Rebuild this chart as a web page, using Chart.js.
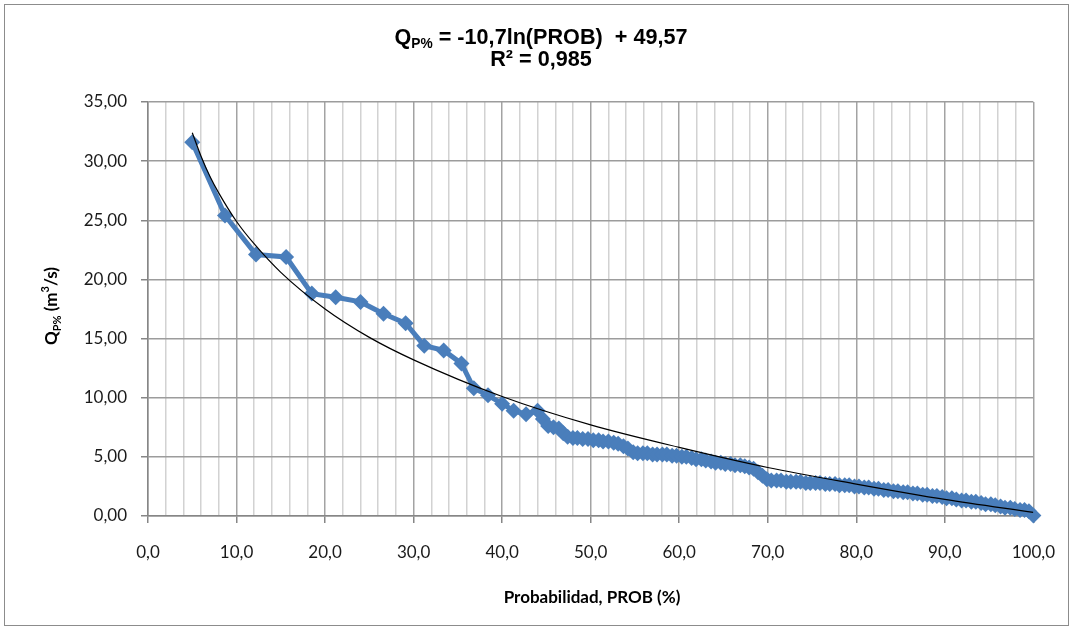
<!DOCTYPE html>
<html>
<head>
<meta charset="utf-8">
<title>Curva de duración</title>
<script src="https://cdn.jsdelivr.net/npm/chart.js@4.4.1/dist/chart.umd.min.js"></script>
<style>
  html, body { margin: 0; padding: 0; background: #fff; }
  #wrap { width: 1074px; height: 631px; }
</style>
</head>
<body>
<div id="wrap"><canvas id="duration-graph" width="1074" height="631"></canvas></div>
<script>
const probValues = [
  5.0, 8.7, 12.2, 15.6, 18.5, 21.2, 24.0, 26.6, 29.1, 31.2, 33.4, 35.4, 36.8, 38.4,
  40.0, 41.3, 42.7, 44.0, 44.6, 45.2, 45.8, 46.4, 46.9, 47.4, 48.0, 48.5, 49.1, 49.7,
  50.3, 50.9, 51.4, 52.0, 52.6, 53.1, 53.7, 54.2, 54.8, 55.3, 55.9, 56.4, 57.0, 57.5,
  58.1, 58.6, 59.2, 59.7, 60.3, 60.8, 61.4, 61.9, 62.5, 63.0, 63.6, 64.1, 64.7, 65.2,
  65.8, 66.3, 66.9, 67.4, 67.9, 68.4, 68.9, 69.4, 69.9, 70.4, 71.0, 71.5, 72.1, 72.6,
  73.2, 73.7, 74.3, 74.8, 75.4, 75.9, 76.5, 77.0, 77.6, 78.1, 78.7, 79.2, 79.8, 80.3,
  80.9, 81.4, 82.0, 82.5, 83.1, 83.6, 84.2, 84.7, 85.3, 85.8, 86.4, 86.9, 87.5, 88.0,
  88.6, 89.1, 89.7, 90.2, 90.8, 91.3, 91.9, 92.4, 93.0, 93.5, 94.1, 94.6, 95.2, 95.7,
  96.3, 96.8, 97.4, 97.9, 98.5, 99.0, 99.5, 100.0
];
const flowValues = [
  31.6, 25.4, 22.1, 21.9, 18.8, 18.5, 18.1, 17.1, 16.3, 14.4, 14.0, 12.9, 10.8, 10.2,
  9.5, 8.9, 8.6, 8.9, 8.2, 7.6, 7.5, 7.4, 7.0, 6.7, 6.6, 6.6, 6.5, 6.5,
  6.4, 6.4, 6.3, 6.3, 6.2, 6.1, 5.9, 5.7, 5.4, 5.3, 5.3, 5.3, 5.2, 5.2,
  5.2, 5.2, 5.1, 5.1, 5.0, 5.0, 4.9, 4.8, 4.8, 4.7, 4.6, 4.5, 4.5, 4.4,
  4.4, 4.3, 4.3, 4.2, 4.1, 4.0, 3.7, 3.4, 3.1, 3.0, 3.0, 3.0, 2.9, 2.9,
  2.9, 2.9, 2.8, 2.8, 2.8, 2.8, 2.7, 2.7, 2.7, 2.6, 2.6, 2.6, 2.5, 2.5,
  2.4, 2.4, 2.3, 2.3, 2.2, 2.2, 2.1, 2.1, 2.0, 2.0, 1.9, 1.9, 1.8, 1.8,
  1.7, 1.7, 1.6, 1.5, 1.5, 1.4, 1.3, 1.3, 1.2, 1.2, 1.1, 1.0, 1.0, 0.9,
  0.8, 0.7, 0.7, 0.6, 0.5, 0.5, 0.4, 0.05
];

// Linea de tendencia logaritmica
const trendProb = [5, 6, 7, 8, 10, 12, 15, 20, 25, 30, 40, 50, 60, 70, 80, 90, 100];
const trendFlow = [32.4, 30.4, 28.7, 27.3, 24.9, 23.0, 20.6, 17.5, 15.1, 13.2, 10.1, 7.7, 5.8, 4.1, 2.7, 1.4, 0.3];

// Ejes
const xMin = 0, xMax = 100, xStep = 2, xMajor = 10;
const yMin = 0, yMax = 35, yStep = 5;

const titleLine1 = { q: 'Q', sub: 'P%', rest: ' = -10,7ln(PROB)  + 49,57' };
const titleLine2 = 'R² = 0,985';
const xTitle = 'Probabilidad, PROB (%)';

const seriesPoints = probValues.map((p, i) => ({ x: p, y: flowValues[i] }));
const trendPoints = trendProb.map((p, i) => ({ x: p, y: trendFlow[i] }));

const fmt = (v, d) => v.toFixed(d).replace('.', ',');

Chart.defaults.font.family = 'Lato, "Open Sans", sans-serif';
Chart.defaults.color = '#1a1a1a';

// texts drawn on the canvas: frame, equation title, axis titles
const textsPlugin = {
  id: 'texts',
  afterDraw(chart) {
    const ctx = chart.ctx;
    ctx.save();

    // outer frame
    ctx.strokeStyle = '#8c8c8c';
    ctx.lineWidth = 1;
    ctx.strokeRect(4.5, 4.5, 1064, 621);

    ctx.fillStyle = '#000';
    ctx.textBaseline = 'alphabetic';

    // equation lines, Arial-narrow look: squeeze horizontally
    const big = 'bold 22px "Liberation Sans", Arial, sans-serif';
    const small = 'bold 14px "Liberation Sans", Arial, sans-serif';
    ctx.font = big;
    const wQ = ctx.measureText(titleLine1.q).width;
    const wRest = ctx.measureText(titleLine1.rest).width;
    ctx.font = small;
    const wSub = ctx.measureText(titleLine1.sub).width;
    const total = wQ + wSub + wRest;
    const sx = 293 / total;

    ctx.save();
    ctx.translate(541, 0);
    ctx.scale(sx, 1);
    let x = -total / 2;
    const base1 = 44;
    ctx.textAlign = 'left';
    ctx.font = big;
    ctx.fillText(titleLine1.q, x, base1);
    x += wQ;
    ctx.font = small;
    ctx.fillText(titleLine1.sub, x, base1 + 4);
    x += wSub;
    ctx.font = big;
    ctx.fillText(titleLine1.rest, x, base1);
    ctx.textAlign = 'center';
    ctx.fillText(titleLine2, 0, 66);
    ctx.restore();

    // x axis title
    ctx.textAlign = 'center';
    ctx.font = 'bold 17px Lato, "Open Sans", sans-serif';
    ctx.fillText(xTitle, 592, 603);

    // y axis title, rotated: Q_P% (m^3/s)
    ctx.translate(57, 306);
    ctx.rotate(-Math.PI / 2);
    const yb = 'bold 17px Lato, "Open Sans", sans-serif';
    const ys = 'bold 11px Lato, "Open Sans", sans-serif';
    const parts = [
      { t: 'Q', f: yb, dy: 0 },
      { t: 'P%', f: ys, dy: 4 },
      { t: ' (m', f: yb, dy: 0 },
      { t: '3', f: ys, dy: -8 },
      { t: '/s)', f: yb, dy: 0 }
    ];
    let sum = 0;
    parts.forEach(p => { ctx.font = p.f; p.w = ctx.measureText(p.t).width; sum += p.w; });
    let px = -sum / 2;
    ctx.textAlign = 'left';
    parts.forEach(p => { ctx.font = p.f; ctx.fillText(p.t, px, p.dy); px += p.w; });

    ctx.restore();
  }
};

const config = {
  type: 'scatter',
  data: {
    datasets: [
      {
        label: 'Logarítmica',
        data: trendPoints,
        showLine: true,
        borderColor: '#000000',
        borderWidth: 1.2,
        pointRadius: 0,
        cubicInterpolationMode: 'monotone'
      },
      {
        label: 'Q',
        data: seriesPoints,
        showLine: true,
        clip: false,
        borderColor: '#4a7ebb',
        backgroundColor: '#4a7ebb',
        borderWidth: 5,
        pointStyle: 'rectRot',
        pointRadius: 8,
        pointBorderWidth: 0
      }
    ]
  },
  options: {
    responsive: false,
    animation: false,
    layout: { padding: { left: 0, right: 36, top: 102, bottom: 0 } },
    plugins: {
      legend: { display: false },
      title: { display: false },
      tooltip: { enabled: false }
    },
    scales: {
      x: {
        type: 'linear',
        min: xMin,
        max: xMax,
        afterFit(scale) { scale.height = 631 - 516; },
        border: { display: true, color: '#868686', width: 1.5 },
        grid: {
          color: c => (c.tick && c.tick.value % xMajor === 0) ? '#a3a3a3' : '#d2d2d2',
          lineWidth: 1.5,
          tickLength: 7,
          tickColor: c => (c.tick && c.tick.value % xMajor === 0) ? '#868686' : 'rgba(0,0,0,0)'
        },
        ticks: {
          stepSize: xStep,
          autoSkip: false,
          maxRotation: 0,
          padding: 19,
          font: { size: 17 },
          callback: v => (v % xMajor === 0) ? fmt(v, 1) : ''
        }
      },
      y: {
        min: yMin,
        max: yMax,
        afterFit(scale) { scale.width = 148; },
        border: { display: true, color: '#868686', width: 1.5 },
        grid: {
          color: '#9c9c9c',
          lineWidth: 1.5,
          tickLength: 7,
          tickColor: '#868686'
        },
        ticks: {
          stepSize: yStep,
          padding: 14,
          font: { size: 17 },
          callback: v => fmt(v, 2)
        }
      }
    }
  },
  plugins: [textsPlugin]
};

const lineChart = new Chart(document.getElementById('duration-graph').getContext('2d'), config);
</script>
</body>
</html>
